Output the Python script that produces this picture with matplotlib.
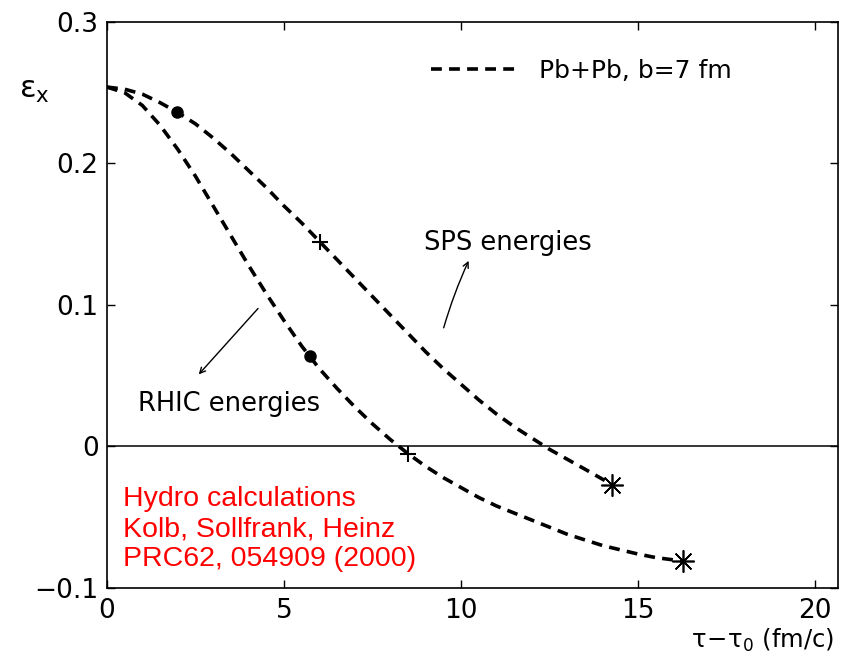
import numpy as np
import matplotlib.pyplot as plt

plt.rcParams['font.family'] = ['DejaVu Sans']
plt.rcParams['mathtext.default'] = 'regular'

# eccentricity vs. time for the two energies
sps_t = [0, 0.5, 1.0, 1.5, 2.0, 2.5, 3.0, 3.5, 4.0, 4.5, 5.0, 5.5, 6.0, 6.5, 7.0,
         7.5, 8.0, 8.5, 9.0, 9.5, 10.0, 10.5, 11.0, 11.5, 12.0, 12.5, 13.0, 13.5, 14.27]
sps_e = [0.254, 0.2525, 0.249, 0.243, 0.236, 0.228, 0.218, 0.207, 0.195, 0.183, 0.170,
         0.158, 0.145, 0.132, 0.119, 0.106, 0.093, 0.080, 0.067, 0.055, 0.044, 0.033,
         0.023, 0.014, 0.006, -0.002, -0.009, -0.016, -0.027]

rhic_t = [0, 0.5, 1.0, 1.5, 2.0, 2.5, 3.0, 3.5, 4.0, 4.5, 5.0, 5.5, 6.0, 6.5, 7.0, 7.5,
          8.0, 8.5, 9.0, 9.5, 10.0, 10.5, 11.0, 11.5, 12.0, 12.5, 13.0, 13.5, 14.0,
          14.5, 15.0, 15.5, 16.27]
rhic_e = [0.254, 0.250, 0.241, 0.227, 0.210, 0.191, 0.170, 0.149, 0.128, 0.108, 0.089,
          0.071, 0.055, 0.041, 0.028, 0.016, 0.005, -0.005, -0.014, -0.022, -0.029,
          -0.036, -0.042, -0.047, -0.052, -0.057, -0.062, -0.066, -0.070, -0.073,
          -0.076, -0.0785, -0.081]

# marker positions: filled dot, plus, asterisk at the end
sps_marks = [1.98, 6.02, 14.27]
rhic_marks = [5.73, 8.5, 16.27]

xticks = [0, 5, 10, 15, 20]
yticks = [-0.1, 0, 0.1, 0.2, 0.3]
ytick_labels = ['\u22120.1', '0', '0.1', '0.2', '0.3']

fig = plt.figure(figsize=(8.53, 6.72), dpi=100)
ax = fig.add_axes([0.1254, 0.125, 0.857, 0.8423])

dash = dict(color='black', lw=2.6, dashes=(3, 2))
ax.plot(sps_t, sps_e, label='Pb+Pb, b=7 fm', **dash)
ax.plot(rhic_t, rhic_e, **dash)

ax.axhline(0, color='black', lw=1.1)

for ts, es, tm in [(sps_t, sps_e, sps_marks), (rhic_t, rhic_e, rhic_marks)]:
    ym = np.interp(tm, ts, es)
    ax.plot(tm[0], ym[0], 'o', color='black', ms=8)
    ax.plot(tm[1], ym[1], '+', color='black', ms=12, mew=1.5)
    ax.plot(tm[2], ym[2], marker=(8, 2, 0), color='black', ms=16, mew=1.2)

ax.set_xlim(0, 20.65)
ax.set_ylim(-0.1, 0.3)
ax.set_xticks(xticks)
ax.set_xticklabels([str(t) for t in xticks])
ax.set_yticks(yticks)
ax.set_yticklabels(ytick_labels)
ax.tick_params(direction='in', length=6, width=1, labelsize=19,
               top=True, right=True, pad=6, colors='black')
ax.tick_params(axis='x', pad=7)
for s in ax.spines.values():
    s.set_linewidth(1.2)

ax.legend(loc='upper right', bbox_to_anchor=(0.885, 0.975), frameon=False,
          fontsize=18, handlelength=3.5, handletextpad=0.8)

ax.annotate('', xy=(2.54, 0.0495), xytext=(4.32, 0.099),
            arrowprops=dict(arrowstyle='->', color='black', lw=1, mutation_scale=10))
ax.annotate('', xy=(10.25, 0.133), xytext=(9.49, 0.082),
            arrowprops=dict(arrowstyle='->', color='black', lw=1, mutation_scale=10,
                            connectionstyle='arc3,rad=-0.04'))
ax.text(3.45, 0.030, 'RHIC energies', fontsize=18.5, ha='center', va='center')
ax.text(11.33, 0.1435, 'SPS energies', fontsize=18.5, ha='center', va='center')

ax.text(0.45, -0.028, 'Hydro calculations\nKolb, Sollfrank, Heinz\nPRC62, 054909 (2000)',
        color='red', fontsize=20.5, family='Liberation Sans',
        ha='left', va='top', linespacing=1.2)

fig.text(0.022, 0.855, r'$\epsilon_x$', fontsize=22)
fig.text(0.978, 0.036, r'$\tau\!-\!\tau_0$ (fm/c)', fontsize=17.5, ha='right')

fig.savefig('out.png', dpi=100)
